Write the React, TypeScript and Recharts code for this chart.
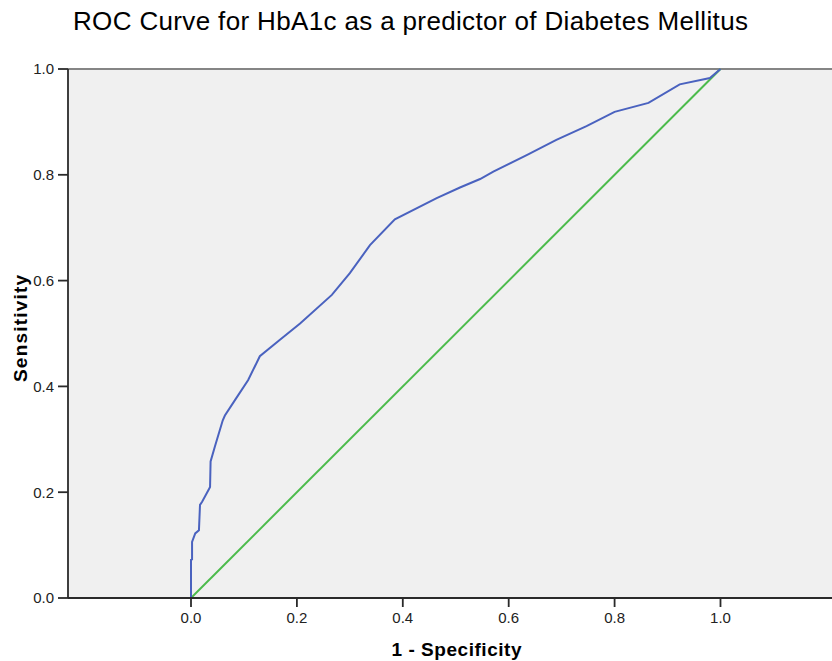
import React from "react";
import { LineChart, Line, XAxis, YAxis, CartesianGrid, ReferenceLine } from "recharts";

// 1 - Specificity (false positive rate)
const fpr = [0, 0, 0.002, 0.002, 0.008, 0.015, 0.017, 0.021, 0.033, 0.036, 0.037, 0.045, 0.06, 0.064, 0.083, 0.108, 0.13, 0.168, 0.206, 0.266, 0.3, 0.338, 0.385, 0.464, 0.508, 0.546, 0.571, 0.634, 0.69, 0.747, 0.8, 0.864, 0.923, 0.98, 1];
// Sensitivity (true positive rate)
const tpr = [0, 0.072, 0.073, 0.106, 0.122, 0.128, 0.176, 0.182, 0.204, 0.21, 0.258, 0.286, 0.336, 0.345, 0.374, 0.412, 0.457, 0.488, 0.519, 0.573, 0.614, 0.667, 0.716, 0.756, 0.776, 0.792, 0.806, 0.837, 0.866, 0.892, 0.919, 0.936, 0.971, 0.983, 1];
const refX = [0, 1];
const refY = [0, 1];
const xTicks = [0, 0.2, 0.4, 0.6, 0.8, 1.0];
const yTicks = [0, 0.2, 0.4, 0.6, 0.8, 1.0];

const title = "ROC Curve for HbA1c as a predictor of Diabetes Mellitus";
const xLabel = "1 - Specificity";
const yLabel = "Sensitivity";

const rocData = fpr.map((x, i) => ({ x, y: tpr[i] }));
const refData = refX.map((x, i) => ({ x, y: refY[i] }));

const FONT = "'Liberation Sans', Arial, sans-serif";

export default function App() {
  return (
    <div style={{ position: "absolute", left: 0, top: 0, width: 832, height: 661, background: "#fff", overflow: "hidden" }}>
      <LineChart
        width={832}
        height={661}
        data={rocData}
        margin={{ top: 69, right: 0, bottom: 0, left: 0 }}
      >
        <CartesianGrid fill="#f0f0f0" horizontal={false} vertical={false} stroke="none" />
        <XAxis
          type="number"
          dataKey="x"
          domain={[-0.2323, 1.2106]}
          allowDataOverflow
          ticks={xTicks}
          tickFormatter={(v: number) => v.toFixed(1)}
          height={63}
          tickSize={9}
          tickMargin={5}
          stroke="#2a2a2a"
          strokeWidth={1.8}
          tick={{ fontSize: 15, fill: "#222", fontFamily: FONT }}
        />
        <YAxis
          type="number"
          domain={[0, 1]}
          ticks={yTicks}
          tickFormatter={(v: number) => v.toFixed(1)}
          width={68}
          tickSize={10}
          tickMargin={4}
          stroke="#2a2a2a"
          strokeWidth={1.8}
          tick={{ fontSize: 15, fill: "#222", fontFamily: FONT }}
        />
        <ReferenceLine y={1} stroke="#858585" strokeWidth={2} />
        <Line
          data={refData}
          dataKey="y"
          type="linear"
          stroke="#4cbb4c"
          strokeWidth={2}
          dot={false}
          isAnimationActive={false}
        />
        <Line
          dataKey="y"
          type="linear"
          stroke="#4a62bf"
          strokeWidth={2}
          dot={false}
          isAnimationActive={false}
        />
      </LineChart>
      <svg width={832} height={661} style={{ position: "absolute", left: 0, top: 0, pointerEvents: "none" }}>
        <text x={73} y={30} fontFamily={FONT} fontSize={26} fill="#000" textLength={675} lengthAdjust="spacing">
          {title}
        </text>
        <text x={391.5} y={656} fontFamily={FONT} fontSize={19} fontWeight="bold" fill="#000" textLength={130} lengthAdjust="spacing">
          {xLabel}
        </text>
        <text
          x={0}
          y={0}
          transform="translate(26.5,382) rotate(-90)"
          fontFamily={FONT}
          fontSize={19}
          fontWeight="bold"
          fill="#000"
          textLength={107}
          lengthAdjust="spacing"
        >
          {yLabel}
        </text>
      </svg>
    </div>
  );
}
